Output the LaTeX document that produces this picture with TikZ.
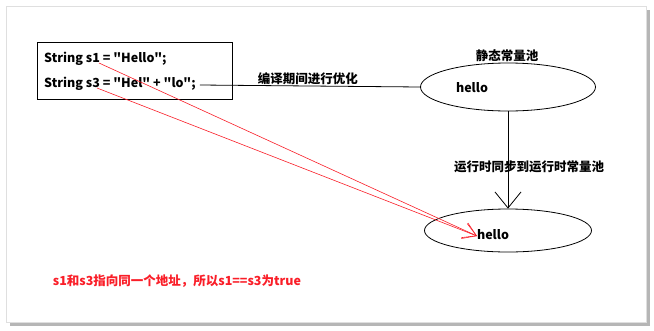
\documentclass[tikz,border=0pt]{standalone}
\usepackage{fontspec}
\setmainfont{Noto Sans CJK SC}
\newfontfamily\codefont{Noto Sans CJK SC}
\usepackage{tikz}
\usetikzlibrary{arrows.meta,positioning,shapes.geometric}
\definecolor{refred}{RGB}{250,30,40}
\definecolor{cardgris}{RGB}{150,150,150}
\tikzset{
  codebox/.style={
    rectangle, draw=black, thick, fill=white,
    minimum width=195pt, minimum height=57pt
  },
  codeline/.style={
    anchor=west, inner sep=0pt, font=\codefont\fontsize{12.5}{14}\selectfont\bfseries
  },
  poolell/.style={
    ellipse, draw=black, thick, inner sep=0pt
  },
  pooltxt/.style={
    inner sep=0pt, font=\fontsize{12.5}{14}\selectfont\bfseries
  },
  cnlabel/.style={
    inner sep=1pt, font=\fontsize{12.5}{14}\selectfont\bfseries
  },
  syncarr/.style={-{Straight Barb[length=16pt,width=26pt]}, thick},
  refarr/.style={-{Straight Barb[length=13pt,width=16pt]}, refred, semithick}
}

\begin{document}
\begin{tikzpicture}[x=1pt, y=-1pt]
  % Card
  \useasboundingbox (0,0) rectangle (654,330);
  \fill[cardgris!70] (10,10) rectangle (650,326);
  \filldraw[fill=white, draw=gray!25] (6,6) rectangle (646,322);

  % Code
  \node[codebox] (code) at (134.5,70.5) {};
  \node[codeline] (lines1) at (44,59) {String s1 = "Hello";};
  \node[codeline] (lines3) at (44,84) {String s3 = "Hel" + "lo";};
  \coordinate (s1pt) at (99,63);
  \coordinate (s3pt) at (97,88);
  \coordinate (s3end) at ([xshift=4pt, yshift=-1pt]lines3.east);

  % Pools
  \node[poolell, minimum width=175pt, minimum height=48pt] (pool) at (508,87) {};
  \node[cnlabel] (poolname) at (507,56) {静态常量池};
  \node[pooltxt] (hello1) at (472,88) {hello};

  \node[poolell, minimum width=167pt, minimum height=43pt] (rtpool) at (508,230.5) {};
  \node[pooltxt] (hello2) at (493,235) {hello};
  \coordinate (hellotip) at (477,236);

  % Compile
  \draw[thick] (s3end) -- node[cnlabel, above, pos=0.49] (compile) {编译期间进行优化} (pool.west);

  % Sync
  \draw[syncarr] (pool.south) -- (rtpool.north);
  \node[cnlabel] (sync) at (529,167) {运行时同步到运行时常量池};

  % References
  \draw[refarr] (s1pt) -- (hellotip);
  \draw[refarr] (s3pt) -- (hellotip);
  \node[cnlabel, text=refred] (concl) at (177,281) {s1和s3指向同一个地址，所以s1==s3为true};
\end{tikzpicture}
\end{document}
